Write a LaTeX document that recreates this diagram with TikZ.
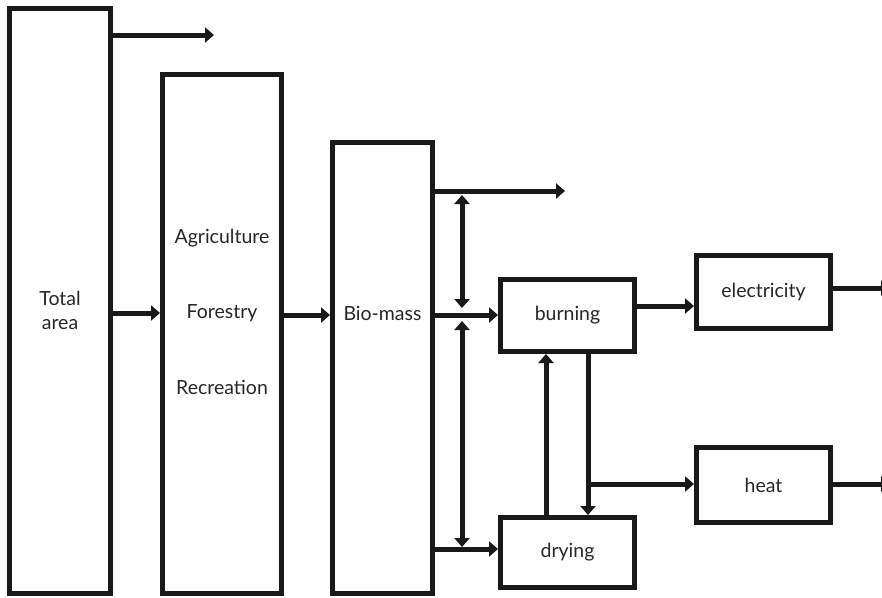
\documentclass[tikz,border=0pt]{standalone}
\usepackage{fontspec}
\setmainfont{Lato}
\usetikzlibrary{arrows.meta}
\begin{document}
\begin{tikzpicture}[x=1pt,y=-1pt,
  box/.style={draw=black!90,line width=5pt,rectangle,inner sep=0pt},
  txt/.style={font=\fontsize{19.5}{24}\selectfont,text=black!85,align=center,inner sep=0pt},
  flow/.style={line width=5pt,draw=black!90,
    -{Triangle[length=9pt,width=15pt]}},
  both/.style={line width=5pt,draw=black!90,
    {Triangle[length=9pt,width=15pt]}-{Triangle[length=9pt,width=15pt]}}]
\useasboundingbox (0,0) rectangle (882,597);

% main columns
\node[box,minimum width=101pt,minimum height=585pt] (total) at (60,301) {};
\node[box,minimum width=119pt,minimum height=519pt] (land) at (222,334) {};
\node[box,minimum width=100pt,minimum height=451pt] (bio) at (382.5,368) {};

\node[txt] (totaltxt) at (60,310) {Total\\area};
\node[txt] (agr) at (222,238) {Agriculture};
\node[txt] (for) at (222,313) {Forestry};
\node[txt] (rec) at (222,387) {Recreation};
\node[txt] (biotxt) at (382.5,313) {Bio-mass};

% processing boxes
\node[box,txt,draw=black!90,minimum width=134pt,minimum height=72pt] (burn) at (567.5,315.5) {burning};
\node[box,txt,draw=black!90,minimum width=134pt,minimum height=70pt] (dry) at (567.5,552.5) {drying};
\node[box,txt,draw=black!90,minimum width=134pt,minimum height=73pt] (elec) at (763.5,292) {electricity};
\node[box,txt,draw=black!90,minimum width=134pt,minimum height=75pt] (heat) at (763.5,485) {heat};

% free ends
\coordinate (out1) at (214,35);
\coordinate (out2) at (565,191);
\coordinate (out3) at (890,288);
\coordinate (out4) at (890,484);
\coordinate (va) at (462,195);
\coordinate (vb) at (462,308);
\coordinate (vc) at (462,321);
\coordinate (vd) at (462,547);
\coordinate (split) at (588,484);

% flows
\draw[flow] (total.east |- out1) -- (out1);
\draw[flow] (total.east |- 0,313) -- (land.west |- 0,313);
\draw[flow] (land.east |- 0,315) -- (bio.west |- 0,315);
\draw[flow] (bio.east |- out2) -- (out2);
\draw[flow] (bio.east |- 0,315) -- (burn.west |- 0,315);
\draw[flow] (bio.east |- 0,549) -- (dry.west |- 0,549);
\draw[both] (va) -- (vb);
\draw[both] (vc) -- (vd);
\draw[flow] (dry.north -| 546,0) -- (burn.south -| 546,0);
\draw[flow] (burn.south -| split) -- (dry.north -| split);
\draw[flow] (split) -- (heat.west |- split);
\draw[flow] (burn.east |- 0,306) -- (elec.west |- 0,306);
\draw[flow] (elec.east |- out3) -- (out3);
\draw[flow] (heat.east |- out4) -- (out4);
\end{tikzpicture}
\end{document}
